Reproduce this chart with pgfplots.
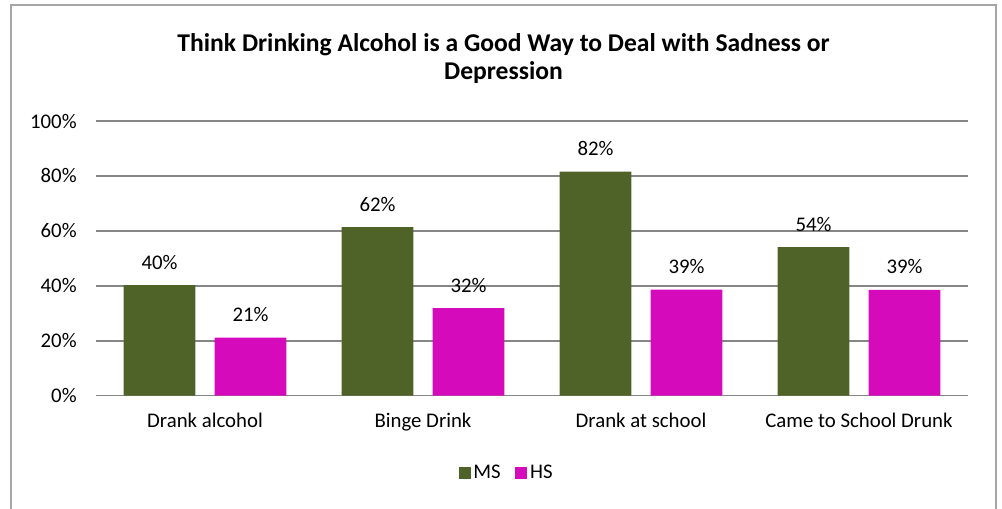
\documentclass[border=0pt]{standalone}
\usepackage{fontspec}
\setmainfont{Carlito}
\usepackage{pgfplots}
\pgfplotsset{compat=1.18}

\definecolor{msgreen}{RGB}{79,98,40}
\definecolor{hsmagenta}{RGB}{213,10,186}
\definecolor{gridgray}{RGB}{134,134,134}
\definecolor{framegray}{RGB}{165,165,165}

\begin{document}
\begin{tikzpicture}
    % frame and title, in pixel units of the 1002x508 picture
    \begin{scope}[x=0.75pt,y=0.75pt]
        \path[use as bounding box] (0,0) rectangle (1002,508);
        \draw[framegray, line width=1pt] (11,-10) -- (11,503) -- (996,503) -- (996,-10);
        \node[font=\fontsize{19.2}{21}\selectfont\bfseries, align=center] at (503.5,449)
            {Think Drinking Alcohol is a Good Way to Deal with Sadness or\\Depression};
    \end{scope}

    \begin{axis}[
        at={(72pt,84.225pt)}, anchor=south west,
        scale only axis,
        width=654pt, height=206pt,
        xmin=-0.5, xmax=3.5,
        ymin=0, ymax=100,
        xtick={0,1,2,3},
        xticklabels={Drank alcohol, Binge Drink, Drank at school, Came to School Drunk},
        ytick={0,20,...,100},
        yticklabel={\pgfmathprintnumber{\tick}\%},
        /pgf/number format/assume math mode=true,
        major tick length=0pt,
        axis line style={draw=none},
        ymajorgrids,
        grid style={gridgray, line width=1.1pt},
        tick label style={font=\fontsize{15.6}{18}\selectfont},
        yticklabel style={anchor=east, xshift=-11pt},
        xticklabel style={anchor=north, yshift=-9.3pt},
        ybar, bar width=0.33,
        clip=false,
        point meta=explicit,
        nodes near coords={\pgfmathprintnumber{\pgfplotspointmeta}\%},
        nodes near coords style={font=\fontsize{15.6}{18}\selectfont, anchor=center, yshift=17.25pt, text=black},
        legend style={at={(0.4713,-0.2814)}, anchor=center, draw=none,
            legend columns=2, font=\fontsize{15.6}{18}\selectfont,
            /tikz/every even column/.append style={column sep=9pt}},
        legend image code/.code={\path[#1,draw=none] (0pt,-4.5pt) rectangle (9pt,4.5pt);},
    ]
        \addplot[fill=msgreen, draw=none, bar shift=-0.2087] coordinates {
            (0,40.3) [40]
            (1,61.4) [62]
            (2,81.6) [82]
            (3,54.1) [54]
        };
        \addplot[fill=hsmagenta, draw=none, bar shift=0.2087] coordinates {
            (0,21.1) [21]
            (1,31.9) [32]
            (2,38.6) [39]
            (3,38.5) [39]
        };
        \legend{MS, HS}
    \end{axis}
\end{tikzpicture}
\end{document}
